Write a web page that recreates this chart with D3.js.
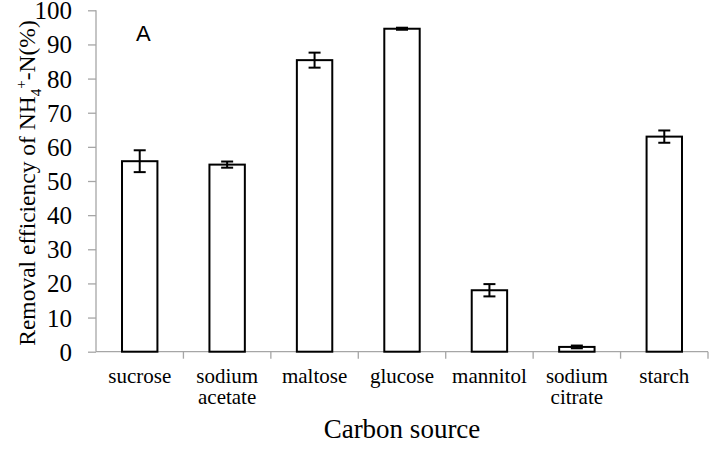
<!DOCTYPE html>
<head>
  <meta charset="utf-8">
  <script src="https://d3js.org/d3.v7.min.js"></script>
  <style>
    body { margin: 0; background: #fff; }
    svg text { font-family: "Liberation Serif", "Times New Roman", serif; fill: #000; }
  </style>
</head>
<body>
  <div id="chart"></div>
  <script>
    var categories = [["sucrose"], ["sodium", "acetate"], ["maltose"], ["glucose"], ["mannitol"], ["sodium", "citrate"], ["starch"]];
    var values = [55.8, 54.8, 85.4, 94.6, 18.0, 1.4, 63.0];
    var errors = [3.2, 0.9, 2.2, 0.3, 1.8, 0.4, 1.8];
    var yTicks = [0, 10, 20, 30, 40, 50, 60, 70, 80, 90, 100];

    var width = 710, height = 450;
    var margin = {left: 96, right: 2, top: 10.3, bottom: 98.3};

    var svg = d3.select("#chart").append("svg")
      .attr("width", width)
      .attr("height", height);

    var x = d3.scaleBand()
      .domain(d3.range(categories.length))
      .range([margin.left, width - margin.right])
      .paddingInner(0).paddingOuter(0);

    var y = d3.scaleLinear()
      .domain([0, 100])
      .range([height - margin.bottom, margin.top]);

    var bw = x.bandwidth() * 0.405;
    var axisColor = "#a6a6a6";
    var serif = "'Liberation Serif', 'Times New Roman', serif";

    // y axis
    var yAxis = svg.append("g")
      .attr("transform", "translate(" + margin.left + ",0)")
      .call(d3.axisLeft(y).tickValues(yTicks).tickSize(8).tickPadding(16));
    yAxis.attr("font-family", null).attr("font-size", null);
    yAxis.selectAll("line, path").attr("stroke", axisColor).attr("stroke-width", 1.3);
    yAxis.select(".domain").attr("d", "M0," + y(100) + "V" + y(0));
    yAxis.selectAll("text")
      .style("font-family", serif)
      .style("font-size", "25px")
      .attr("dy", "0.34em");

    // x axis
    var xAxis = svg.append("g")
      .attr("transform", "translate(0," + y(0) + ")");
    xAxis.append("line")
      .attr("x1", margin.left).attr("x2", width - margin.right)
      .attr("stroke", axisColor).attr("stroke-width", 1.3);
    xAxis.selectAll(".tk")
      .data(d3.range(categories.length))
      .enter().append("line")
      .attr("class", "tk")
      .attr("x1", function(d) { return x(d) + x.bandwidth(); })
      .attr("x2", function(d) { return x(d) + x.bandwidth(); })
      .attr("y1", 0).attr("y2", 7)
      .attr("stroke", axisColor).attr("stroke-width", 1.3);

    var labels = xAxis.selectAll(".lbl")
      .data(categories)
      .enter().append("text")
      .attr("class", "lbl")
      .attr("text-anchor", "middle")
      .style("font-size", "21px")
      .attr("transform", function(d, i) { return "translate(" + (x(i) + x.bandwidth() / 2) + ",0)"; });
    labels.selectAll("tspan")
      .data(function(d) { return d; })
      .enter().append("tspan")
      .attr("x", 0)
      .attr("y", function(d, i) { return 31 + i * 21; })
      .text(function(d) { return d; });

    // bars
    svg.selectAll(".bar")
      .data(values)
      .enter().append("rect")
      .attr("class", "bar")
      .attr("x", function(d, i) { return x(i) + (x.bandwidth() - bw) / 2; })
      .attr("width", bw)
      .attr("y", function(d) { return y(d); })
      .attr("height", function(d) { return y(0) - y(d); })
      .attr("fill", "#fff")
      .attr("stroke", "#000")
      .attr("stroke-width", 2);

    // error bars
    var eb = svg.selectAll(".err")
      .data(values)
      .enter().append("g")
      .attr("class", "err")
      .attr("transform", function(d, i) { return "translate(" + (x(i) + x.bandwidth() / 2) + ",0)"; });
    eb.append("line")
      .attr("y1", function(d, i) { return y(d + errors[i]); })
      .attr("y2", function(d, i) { return y(d - errors[i]); })
      .attr("stroke", "#000").attr("stroke-width", 2);
    eb.append("line")
      .attr("x1", -6).attr("x2", 6)
      .attr("y1", function(d, i) { return y(d + errors[i]); })
      .attr("y2", function(d, i) { return y(d + errors[i]); })
      .attr("stroke", "#000").attr("stroke-width", 2);
    eb.append("line")
      .attr("x1", -6).attr("x2", 6)
      .attr("y1", function(d, i) { return y(d - errors[i]); })
      .attr("y2", function(d, i) { return y(d - errors[i]); })
      .attr("stroke", "#000").attr("stroke-width", 2);

    // axis titles
    svg.append("text")
      .attr("x", (margin.left + width - margin.right) / 2)
      .attr("y", 438)
      .attr("text-anchor", "middle")
      .style("font-size", "27px")
      .text("Carbon source");

    var yt = svg.append("text")
      .attr("transform", "translate(35," + ((y(0) + y(100)) / 2 + 2) + ") rotate(-90)")
      .attr("text-anchor", "middle")
      .style("font-size", "23.5px");
    yt.append("tspan").text("Removal efficiency of NH");
    yt.append("tspan").attr("dy", 6).style("font-size", "15px").text("4");
    yt.append("tspan").attr("dy", -15).style("font-size", "15px").text("+");
    yt.append("tspan").attr("dy", 9).text("-N(%)");

    svg.append("text")
      .attr("x", 136)
      .attr("y", 41)
      .style("font-family", "Liberation Sans, Arial, sans-serif")
      .style("font-size", "22px")
      .text("A");
  </script>
</body>
